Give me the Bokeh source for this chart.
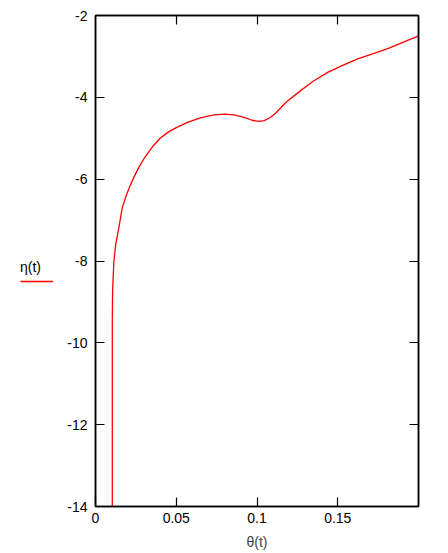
from bokeh.plotting import figure
from bokeh.models import LinearAxis, FixedTicker, Range1d, Legend, LegendItem
from bokeh.layouts import row
from bokeh.core.properties import value
from bokeh.embed import file_html
from bokeh.resources import INLINE

theta = [0.0104, 0.0104, 0.0106, 0.0114, 0.0125, 0.0145, 0.0166, 0.0186, 0.0210,
         0.0238, 0.0270, 0.0300, 0.0350, 0.0400, 0.0450, 0.0500, 0.0569, 0.0650, 0.0734,
         0.0800, 0.0859, 0.0920, 0.0970, 0.1010, 0.1045, 0.1080, 0.1115, 0.1180,
         0.1272, 0.1350, 0.1438, 0.1530, 0.1624, 0.1720, 0.1810, 0.1914, 0.2000]
eta = [-14.0, -9.4, -8.7, -8.0, -7.6, -7.18, -6.69, -6.45, -6.20,
       -5.95, -5.70, -5.50, -5.22, -5.00, -4.85, -4.74, -4.61, -4.50, -4.43,
       -4.41, -4.43, -4.49, -4.56, -4.59, -4.57, -4.50, -4.39, -4.12,
       -3.83, -3.60, -3.39, -3.22, -3.06, -2.93, -2.81, -2.64, -2.50]

x_ticks = [0, 0.05, 0.1, 0.15]
x_tick_labels = ["0", "0.05", "0.1", "0.15"]
y_ticks = [-14, -12, -10, -8, -6, -4, -2]
y_tick_labels = ["-14", "-12", "-10", "-8", "-6", "-4", "-2"]
series_name = "η(t)"

FONT = "Liberation Sans"
RED = "#ff0000"

# ---- main plot ----
p = figure(width=388, height=553, output_backend="svg", toolbar_location=None,
           x_range=Range1d(0, 0.2), y_range=Range1d(-14, -2),
           x_axis_location=None, y_axis_location=None,
           min_border_left=35, min_border_right=30, min_border_top=15, min_border_bottom=47)
p.grid.visible = False
p.background_fill_color = "white"
p.border_fill_color = "white"
p.outline_line_color = "black"
p.outline_line_width = 1.5

def style(ax):
    ax.axis_line_color = "black"
    ax.axis_line_width = 1.5
    ax.major_tick_line_color = "black"
    ax.major_tick_line_width = 1.2
    ax.major_tick_in = 9
    ax.major_tick_out = 0
    ax.minor_tick_line_color = None
    ax.major_label_text_font = FONT
    ax.major_label_text_font_size = "14px"
    ax.major_label_text_color = "black"

bottom = LinearAxis(ticker=FixedTicker(ticks=x_ticks),
                    major_label_overrides={t: l for t, l in zip(x_ticks, x_tick_labels)})
style(bottom)
bottom.major_label_standoff = 6
bottom.axis_label = "θ(t)"
bottom.axis_label_text_font = FONT
bottom.axis_label_text_font_size = "14px"
bottom.axis_label_text_font_style = "normal"
bottom.axis_label_standoff = 8
p.add_layout(bottom, "below")

left = LinearAxis(ticker=FixedTicker(ticks=y_ticks),
                  major_label_overrides={t: l for t, l in zip(y_ticks, y_tick_labels)})
style(left)
left.major_label_standoff = 8
p.add_layout(left, "left")

top_ticks = [0.05, 0.1, 0.15]
top = LinearAxis(ticker=FixedTicker(ticks=top_ticks),
                 major_label_overrides={t: "" for t in top_ticks})
style(top)
top.major_label_standoff = 0
p.add_layout(top, "above")

right = LinearAxis(ticker=FixedTicker(ticks=y_ticks),
                   major_label_overrides={t: "" for t in y_ticks})
style(right)
right.major_label_standoff = 0
p.add_layout(right, "right")

p.line(theta, eta, line_color=RED, line_width=1.3)

# ---- legend strip on the left ----
lg = figure(width=60, height=553, output_backend="svg", toolbar_location=None,
            x_range=Range1d(1, 2), y_range=Range1d(1, 2),
            x_axis_location=None, y_axis_location=None, min_border=0)
lg.grid.visible = False
lg.outline_line_color = None
lg.background_fill_color = "white"
lg.border_fill_color = "white"
lr = lg.line(theta, eta, line_color=RED, line_width=1.3)
legend = Legend(items=[LegendItem(label=value(" "), renderers=[lr])],
                title=series_name, title_text_font=FONT, title_text_font_size="14px",
                title_text_font_style="normal", title_text_color="black", title_standoff=3,
                location=(20, 222), glyph_width=33, glyph_height=6,
                label_width=0, label_standoff=0, label_text_font_size="1px",
                padding=0, margin=0, spacing=0,
                border_line_color=None, background_fill_alpha=0)
lg.add_layout(legend)

open("out.html", "w").write(file_html(row(lg, p), INLINE))
